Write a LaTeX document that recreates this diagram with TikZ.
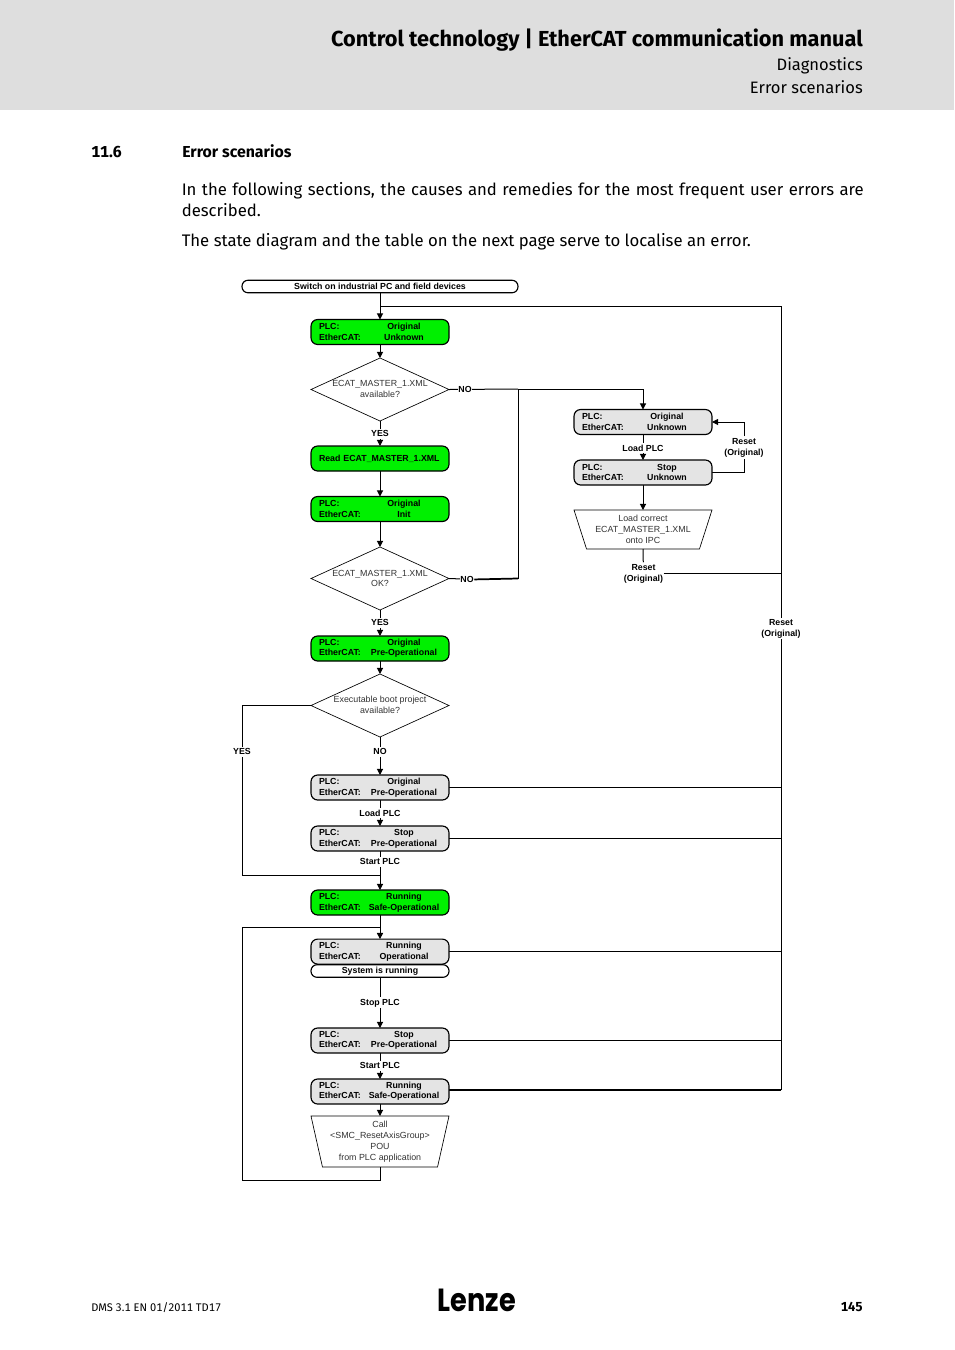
\documentclass[tikz,border=0pt]{standalone}
\usepackage{graphicx}
\usepackage{fontspec}
\setmainfont[Numbers=Monospaced]{Fira Sans}
\newfontfamily\chartfont{Liberation Sans}
\newfontfamily\logofont{Poppins}
\usetikzlibrary{arrows.meta,shapes.geometric,backgrounds}
\definecolor{bandgrey}{HTML}{DEDEDE}
\definecolor{stategreen}{HTML}{00F000}
\definecolor{stategrey}{HTML}{E4E4E4}
\newcommand{\stline}[2]{\makebox[63.75pt][l]{#1}\makebox[0pt][c]{#2}}
\newcommand{\stateText}[2]{\stline{PLC:}{#1}\\\stline{EtherCAT:}{#2}}
\newcommand{\zw}[1]{\makebox[0pt][c]{#1}}
\newcommand{\zwu}[1]{\raisebox{0.7pt}{\makebox[0pt][c]{#1}}}
\tikzset{
  x=0.75pt,y=-0.75pt,
  statebox/.style={draw=black,line width=0.85pt,rounded corners=5pt,text width=91.5pt,inner xsep=6pt,inner ysep=0pt,
    minimum height=18.75pt,outer sep=0pt,align=left,font=\chartfont\bfseries\fontsize{6.6}{8.25}\selectfont},
  narrow/.style={font=\chartfont\bfseries\fontsize{6.6}{7.7}\selectfont},
  greenbox/.style={statebox,fill=stategreen},
  greybox/.style={statebox,fill=stategrey},
  pill/.style={draw=black,line width=0.85pt,rounded corners=4.5pt,fill=white,inner sep=0pt,minimum height=9.4pt,outer sep=0pt,
    font=\chartfont\bfseries\fontsize{6.6}{8}\selectfont},
  decision/.style={diamond,draw=black,line width=0.5pt,inner sep=0pt,aspect=2.19,minimum width=103.5pt,minimum height=47.25pt,
    outer sep=0pt,align=center,text=black!80,font=\chartfont\fontsize{6.65}{8.25}\selectfont},
  action/.style={inner sep=0pt,minimum width=103.5pt,outer sep=0pt,align=center,text=black!80,
    font=\chartfont\fontsize{6.65}{8.25}\selectfont},
  actionborder/.style={line width=0.5pt,line join=miter},
  lab/.style={fill=white,inner xsep=0.3pt,inner ysep=1.1pt,align=center,yshift=-0.7pt,font=\chartfont\bfseries\fontsize{6.6}{8.25}\selectfont},
  flow/.style={line width=0.75pt,-{Triangle[length=4.6pt,width=4.6pt]}},
  plain/.style={line width=0.75pt},
  heavy/.style={line width=1.3pt},
  head/.style={inner sep=0pt,anchor=base east},
  copytext/.style={inner sep=0pt,anchor=base west},
}
\begin{document}
\begin{tikzpicture}
\useasboundingbox (0,0) rectangle (954,1350);
\fill[bandgrey] (0,0) rectangle (954,110);
% header
\node[head,font=\bfseries\fontsize{16.3}{20}\selectfont] (title) at (863,46.3) {Control technology | EtherCAT communication manual};
\node[head,font=\fontsize{12.4}{16}\selectfont] (sub1) at (863,70) {Diagnostics};
\node[head,font=\fontsize{12.4}{16}\selectfont] (sub2) at (863,93) {Error scenarios};
\node[copytext,font=\bfseries\fontsize{11.9}{16}\selectfont] (secnum) at (91,157) {11.6};
\node[copytext,font=\bfseries\fontsize{11.9}{16}\selectfont] (sectitle) at (182,157) {Error scenarios};
\node[copytext,anchor=north west,text width=511.5pt,align=justify,font=\fontsize{12.55}{15.75}\selectfont] (para1) at (181.5,182)
  {In the following sections, the causes and remedies for the most frequent user errors are described.};
\node[copytext,font=\fontsize{12.55}{15.75}\selectfont] (para2) at (181.5,246)
  {The state diagram and the table on the next page serve to localise an error.};
% main column
\node[pill,minimum width=207pt] (start) at (380,286.5) {Switch on industrial PC and field devices};
\node[greenbox] (s1) at (380,332) {\stateText{Original}{Unknown}};
\node[decision] (d1) at (380,389.5) {\zwu{ECAT\_MASTER\_1.XML}\\\zwu{available?}};
\node[greenbox] (s2) at (380,458.5) {Read ECAT\_MASTER\_1.XML};
\node[greenbox] (s3) at (380,509) {\stateText{Original}{Init}};
\node[decision] (d2) at (380,578.5) {\zw{ECAT\_MASTER\_1.XML}\\\zwu{OK?}};
\node[greenbox,narrow] (s4) at (380,648.5) {\stateText{Original}{Pre-Operational}};
\node[decision] (d3) at (380,705.5) {\zwu{Executable boot project}\\\zwu{available?}};
\node[greybox] (s5) at (380,787.5) {\stateText{Original}{Pre-Operational}};
\node[greybox] (s6) at (380,838.5) {\stateText{Stop}{Pre-Operational}};
\node[greenbox] (s7) at (380,902.5) {\stateText{Running}{Safe-Operational}};
\node[greybox,narrow] (s8) at (380,951.6) {\stateText{Running}{Operational}};
\node[pill,minimum width=103.5pt] (run) at (380,971) {System is running};
\node[greybox,narrow] (s9) at (380,1040.5) {\stateText{Stop}{Pre-Operational}};
\node[greybox,narrow] (s10) at (380,1091.5) {\stateText{Running}{Safe-Operational}};
\node[action,minimum height=38.25pt] (a1) at (380,1141.5) {\zw{Call}\\\zw{<SMC\_ResetAxisGroup>}\\\zw{POU}\\\zw{from PLC application}};
\draw[actionborder] (a1.north west) -- (a1.north east) -- ([xshift=-8.6pt]a1.south east) -- ([xshift=8.6pt]a1.south west) -- cycle;
% right column
\node[greybox] (r1) at (643,422) {\stateText{Original}{Unknown}};
\node[greybox,narrow] (r2) at (643,472.5) {\stateText{Stop}{Unknown}};
\node[action,minimum height=29.25pt] (a2) at (643,529.5) {\zw{Load correct}\\\zw{ECAT\_MASTER\_1.XML}\\\zw{onto IPC}};
\draw[actionborder] (a2.north west) -- (a2.north east) -- ([xshift=-9.4pt]a2.south east) -- ([xshift=9.4pt]a2.south west) -- cycle;
% labels
\node[lab] (lyes1) at (380,433) {YES};
\node[lab] (lno1) at (465,389) {NO};
\node[lab] (lno2) at (467,578.5) {NO};
\node[lab] (lyes2) at (380,622) {YES};
\node[lab] (lyes3) at (242,751) {YES};
\node[lab] (lno3) at (380,751) {NO};
\node[lab] (lload1) at (380,812) {Load PLC};
\node[lab] (lstart1) at (380,861) {Start PLC};
\node[lab] (lstop) at (380,1002) {Stop PLC};
\node[lab] (lstart2) at (380,1065) {Start PLC};
\node[lab] (lload2) at (643,447) {Load PLC};
\node[lab] (lreset1) at (744,446.5) {Reset\\(Original)};
\node[lab] (lreset2) at (643.5,572.5) {Reset\\(Original)};
\node[lab] (lreset3) at (781,627.5) {Reset\\(Original)};
% free-end coordinates
\coordinate (railT) at (781,306);
\coordinate (railB) at (781,1090);
\coordinate (yesL) at (242,875);
\coordinate (busTop) at (643,389);
\coordinate (noV) at (518,389);
\coordinate (noC) at (518,578.5);
\coordinate (loopTop) at (242,927);
\coordinate (loopBot) at (242,1180);
\coordinate (fbTop) at (744,422);
\coordinate (fbBot) at (744,472.5);
\coordinate (resetEnd) at (781,573.5);
% connectors
\begin{pgfonlayer}{background}
\draw[flow] (start) -- (s1);
\draw[flow] (s1) -- (d1);
\draw[flow] (d1) -- (s2);
\draw[flow] (s2) -- (s3);
\draw[flow] (s3) -- (d2);
\draw[flow] (d2) -- (s4);
\draw[flow] (s4) -- (d3);
\draw[flow] (d3) -- (s5);
\draw[flow] (s5) -- (s6);
\draw[flow] (s6) -- (s7);
\draw[flow] (s7) -- (s8);
\draw[flow] (run) -- (s9);
\draw[flow] (s9) -- (s10);
\draw[flow] (s10) -- (a1.north);
\draw[plain] (d3.west) -| (yesL) -- (yesL -| s6);
\draw[plain] (a1.south) |- (loopBot) -- (loopTop) -- (loopTop -| s8);
% NO branches
\draw[plain] (d1.east) -- (noV);
\draw[flow] (noV) -- (busTop) -- (r1.north);
\draw[plain] (d2.east) -- (lno2.east);
\draw[heavy] (lno2.east) -- (noC);
\draw[plain] (noC) -- (noV);
% right column
\draw[flow] (r1) -- (r2);
\draw[flow] (r2) -- (a2.north);
\draw[plain] (a2.south) -- (lreset2);
\draw[plain] (lreset2.east |- resetEnd) -- (resetEnd);
\draw[plain] (r2.east) -- (fbBot) -- (lreset1);
\draw[flow] (lreset1) -- (fbTop) -- (r1.east);
% reset rail
\draw[plain] (railB) -- (railT) -- (railT -| s1);
\draw[plain] (s5.east) -- (s5.east -| railT);
\draw[plain] (s6.east) -- (s6.east -| railT);
\draw[plain] (s8.east) -- (s8.east -| railT);
\draw[plain] (s9.east) -- (s9.east -| railT);
\draw[heavy] (s10.east |- railB) -- (railB);
\end{pgfonlayer}
% footer
\node[copytext,font=\fontsize{8.3}{10}\selectfont] (foot) at (91,1311) {DMS 3.1 EN 01/2011 TD17};
\node[head,font=\bfseries\fontsize{9.8}{12}\selectfont] (page) at (863,1311) {145};
\node[inner sep=0pt,font=\logofont\bfseries\fontsize{24}{26}\selectfont] (logo) at (477,1300) {\scalebox{0.85}[1]{Lenze}};
\end{tikzpicture}
\end{document}
